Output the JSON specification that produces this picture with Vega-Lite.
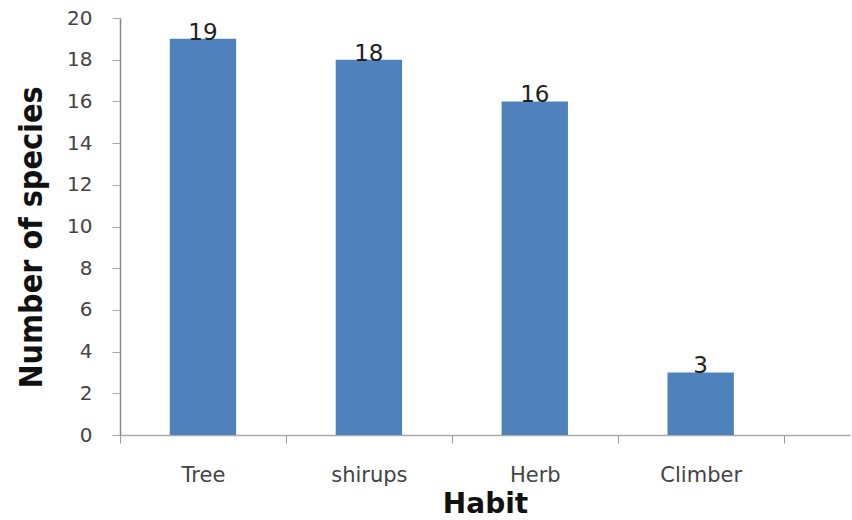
{
  "$schema": "https://vega.github.io/schema/vega-lite/v6.json",
  "width": 730,
  "height": 417,
  "autosize": {"type": "none"},
  "padding": {"left": 120, "top": 18, "right": 2, "bottom": 85},
  "background": "white",
  "config": {"view": {"stroke": null}},
  "data": {"values": [
    {"habit": "Tree", "count": 19},
    {"habit": "shirups", "count": 18},
    {"habit": "Herb", "count": 16},
    {"habit": "Climber", "count": 3}
  ]},
  "encoding": {
    "x": {
      "field": "habit", "type": "nominal", "sort": null,
      "scale": {"paddingInner": 0, "paddingOuter": 0.2, "align": 0},
      "axis": {
        "title": "Habit", "titleFont": "DejaVu Sans", "titleFontSize": 28, "titleFontWeight": "bold",
        "titleColor": "#111", "titlePadding": 5,
        "labelAngle": 0, "labelFont": "DejaVu Sans", "labelFontSize": 21, "labelColor": "#444",
        "labelPadding": 21, "tickBand": "extent", "tickSize": 8, "tickColor": "#999",
        "domainColor": "#aaa", "domainWidth": 1.5, "grid": false
      }
    },
    "y": {
      "field": "count", "type": "quantitative",
      "scale": {"domain": [0, 20], "nice": false},
      "axis": {
        "title": "Number of species", "titleFont": "DejaVu Sans Condensed", "titleFontSize": 32,
        "titleFontWeight": "bold", "titleColor": "#111", "titlePadding": 18, "titleY": 219,
        "values": [0, 2, 4, 6, 8, 10, 12, 14, 16, 18, 20],
        "labelFont": "DejaVu Sans", "labelFontSize": 20, "labelColor": "#444", "labelPadding": 20,
        "tickSize": 8, "tickColor": "#aaa", "domainColor": "#888", "domainWidth": 1.5, "grid": false
      }
    }
  },
  "layer": [
    {"mark": {"type": "bar", "color": "#4F81BD", "width": {"band": 0.4}}},
    {
      "mark": {"type": "text", "font": "DejaVu Sans", "fontSize": 23, "color": "#222", "baseline": "alphabetic", "dy": 1},
      "encoding": {"text": {"field": "count", "type": "quantitative"}}
    }
  ]
}
